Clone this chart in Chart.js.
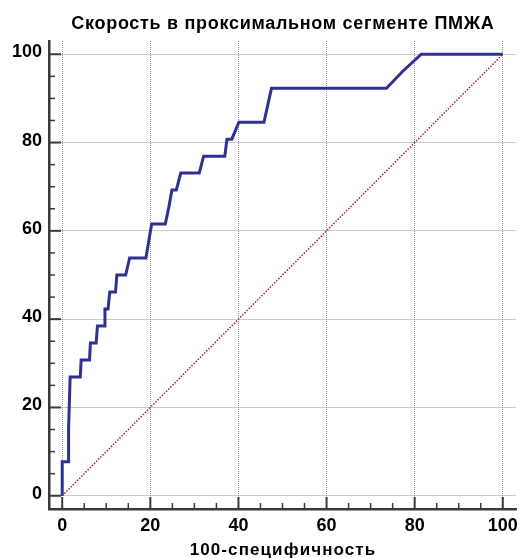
<!DOCTYPE html>
<html>
<head>
<meta charset="utf-8">
<script src="https://cdn.jsdelivr.net/npm/chart.js@4"></script>
<style>
html,body{margin:0;padding:0;background:#fff;}
#wrap{width:519px;height:558px;}
</style>
</head>
<body>
<div id="wrap"><canvas id="c" width="519" height="558"></canvas></div>
<script>
const chartTitle = 'Скорость в проксимальном сегменте ПМЖА';
const xAxisTitle = '100-специфичность';
const tickValues = [0, 20, 40, 60, 80, 100];
const minorTickValues = [5, 10, 15, 25, 30, 35, 45, 50, 55, 65, 70, 75, 85, 90, 95];
const rocX = [0, 0, 1.36, 1.45, 1.8, 4.1, 4.3, 6.2, 6.4, 7.7, 8.0, 9.5, 9.7, 10.4, 10.8, 12.1, 12.4, 14.4, 15.3, 19.0, 20.3, 23.4, 24.2, 24.9, 25.9, 26.9, 31.1, 32.1, 36.9, 37.4, 38.5, 40.1, 45.8, 47.5, 73.6, 77.3, 81.5, 100];
const rocY = [0, 7.69, 7.69, 15.38, 26.92, 26.92, 30.77, 30.77, 34.62, 34.62, 38.46, 38.46, 42.31, 42.31, 46.15, 46.15, 50, 50, 53.85, 53.85, 61.54, 61.54, 65.38, 69.23, 69.23, 73.08, 73.08, 76.92, 76.92, 80.77, 80.77, 84.62, 84.62, 92.31, 92.31, 96.15, 100, 100];
const diagX = [0, 100];
const diagY = [0, 100];

const axisColor = '#3a3a3a';
const FONT = '"Liberation Sans", Arial, sans-serif';

const decorations = {
  id: 'decorations',
  afterDraw(chart) {
    const ctx = chart.ctx;
    const xs = chart.scales.x, ys = chart.scales.y;
    const a = chart.chartArea;
    ctx.save();
    ctx.strokeStyle = axisColor;
    const draw = (vals, len, w) => {
      ctx.lineWidth = w;
      vals.forEach(v => {
        const px = xs.getPixelForValue(v);
        ctx.beginPath(); ctx.moveTo(px, a.bottom); ctx.lineTo(px, a.bottom - len); ctx.stroke();
        const py = ys.getPixelForValue(v);
        ctx.beginPath(); ctx.moveTo(a.left, py); ctx.lineTo(a.left + len, py); ctx.stroke();
      });
    };
    draw(minorTickValues, 6, 1.5);
    draw(tickValues, 12, 2);

    const cx = (a.left + a.right) / 2;
    ctx.fillStyle = '#000';
    ctx.textAlign = 'center';
    ctx.textBaseline = 'alphabetic';
    ctx.font = 'bold 18px ' + FONT;
    ctx.letterSpacing = '0.7px';
    ctx.fillText(chartTitle, cx + 0.35, 29);
    ctx.font = 'bold 17px ' + FONT;
    ctx.letterSpacing = '1.1px';
    ctx.fillText(xAxisTitle, cx + 0.5, 555);
    ctx.restore();
  }
};

new Chart(document.getElementById('c'), {
  type: 'scatter',
  data: {
    datasets: [
      {
        data: diagX.map((x, i) => ({x, y: diagY[i]})),
        showLine: true,
        borderColor: '#a8252e',
        borderWidth: 1.5,
        borderDash: [1.5, 1.5],
        pointRadius: 0,
        order: 2
      },
      {
        data: rocX.map((x, i) => ({x, y: rocY[i]})),
        showLine: true,
        borderColor: '#2f3192',
        borderWidth: 3,
        pointRadius: 0,
        tension: 0,
        order: 1
      }
    ]
  },
  options: {
    responsive: false,
    animation: false,
    layout: { padding: { left: 0, right: 3, top: 41, bottom: 0 } },
    plugins: {
      legend: { display: false },
      tooltip: { enabled: false },
      title: { display: false }
    },
    scales: {
      x: {
        type: 'linear',
        min: -3,
        max: 103,
        afterBuildTicks: s => { s.ticks = tickValues.map(v => ({ value: v })); },
        afterFit: s => { s.height = 49; s.paddingLeft = 0; s.paddingRight = 0; },
        grid: { color: '#959595', lineWidth: 1, drawTicks: false },
        border: { display: true, color: axisColor, width: 2.5, dash: [1, 1] },
        ticks: { color: '#000', font: { family: FONT, size: 18, weight: 'bold' }, padding: 6, maxRotation: 0 }
      },
      y: {
        type: 'linear',
        min: -3,
        max: 103,
        afterBuildTicks: s => { s.ticks = tickValues.map(v => ({ value: v })); },
        afterFit: s => { s.width = 49; s.paddingTop = 0; s.paddingBottom = 0; },
        grid: { color: '#959595', lineWidth: 1, drawTicks: false },
        border: { display: true, color: axisColor, width: 2.5, dash: [1, 1] },
        ticks: { color: '#000', font: { family: FONT, size: 18, weight: 'bold' }, padding: 7, labelOffset: -2 }
      }
    }
  },
  plugins: [decorations]
});
</script>
</body>
</html>
